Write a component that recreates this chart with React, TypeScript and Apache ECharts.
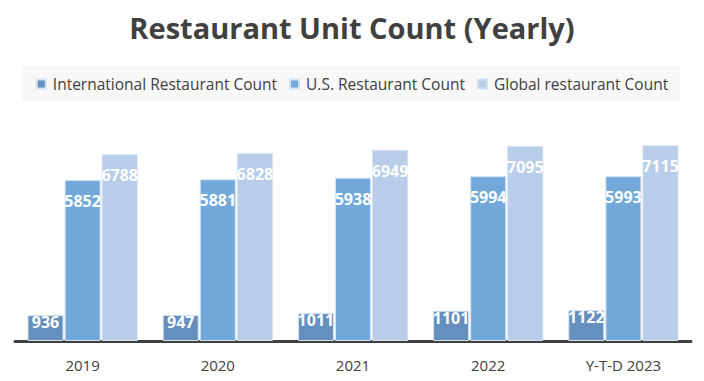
import React, { useEffect, useRef } from "react";
import * as echarts from "echarts";

const categories = ["2019", "2020", "2021", "2022", "Y-T-D 2023"];
const internationalCount = [936, 947, 1011, 1101, 1122];
const usCount = [5852, 5881, 5938, 5994, 5993];
const globalCount = [6788, 6828, 6949, 7095, 7115];
const seriesNames = [
  "International Restaurant Count",
  "U.S. Restaurant Count",
  "Global restaurant Count",
];
const colors = ["#658fbd", "#72a9da", "#b7cde9"];

export default function App() {
  const ref = useRef<HTMLDivElement>(null);
  useEffect(() => {
    document.body.style.margin = "0";
    if (!ref.current) return;
    const chart = echarts.init(ref.current, null, { renderer: "svg" });
    const font = "'Open Sans', sans-serif";
    const mkSeries = (name: string, data: number[], color: string, dist: number) => ({
      name,
      type: "bar",
      data,
      barWidth: 36,
      barGap: "3%",
      itemStyle: { color, borderColor: "#d3e1f1", borderWidth: 1 },
      label: {
        show: true,
        position: "insideTop",
        distance: dist,
        color: "#ffffff",
        fontFamily: font,
        fontWeight: "bold",
        fontSize: 16,
        lineHeight: 16,
      },
    });
    chart.setOption({
      animation: false,
      backgroundColor: "#ffffff",
      color: colors,
      title: {
        text: "Restaurant Unit Count (Yearly)",
        left: "center",
        top: 8,
        textStyle: {
          fontFamily: font,
          fontWeight: "bold",
          fontSize: 29,
          color: "#404040",
        },
      },
      graphic: [
        {
          type: "rect",
          left: 22,
          top: 65,
          shape: { width: 658, height: 36 },
          style: { fill: "#f8f8f8" },
          z: -1,
        },
      ],
      legend: {
        data: seriesNames,
        top: 71,
        left: "center",
        icon: "rect",
        itemWidth: 9,
        itemHeight: 9,
        itemGap: 12,
        textStyle: { fontFamily: font, fontSize: 15.5, color: "#404040", padding: [0, 0, 0, 2] },
      },
      grid: { left: 15, right: 13, top: 121, bottom: 40 },
      xAxis: {
        type: "category",
        data: categories,
        axisTick: { show: false },
        axisLine: { lineStyle: { color: "#404040", width: 3 } },
        axisLabel: { fontFamily: font, fontSize: 15, color: "#404040", margin: 16 },
      },
      yAxis: {
        type: "value",
        min: 0,
        max: 8000,
        show: false,
        splitLine: { show: false },
      },
      series: [
        mkSeries(seriesNames[0], internationalCount, colors[0], -1),
        mkSeries(seriesNames[1], usCount, colors[1], 13),
        mkSeries(seriesNames[2], globalCount, colors[2], 13),
      ],
    });
    return () => chart.dispose();
  }, []);
  return <div ref={ref} style={{ width: 704, height: 381 }} />;
}
